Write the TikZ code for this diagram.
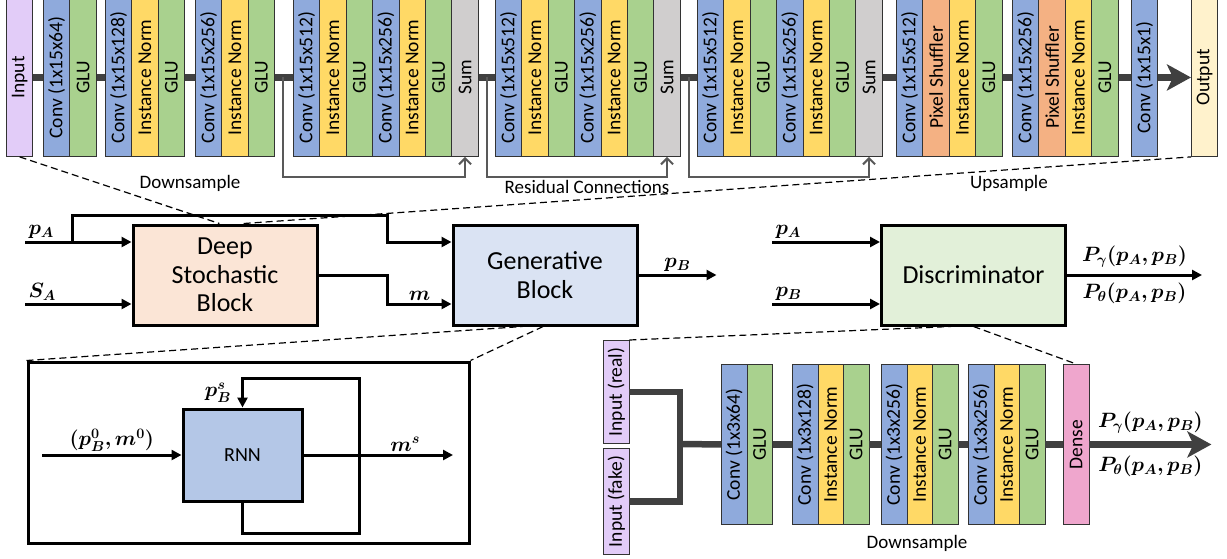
\documentclass[tikz,border=0pt]{standalone}
\usepackage[no-math]{fontspec}
\setmainfont{Carlito}
\usepackage{amsmath,bm}
\usetikzlibrary{arrows.meta,calc,positioning}

\definecolor{inpurple}{HTML}{E2CCF8}
\definecolor{convblue}{HTML}{8FAADC}
\definecolor{glugreen}{HTML}{A9D18E}
\definecolor{normyellow}{HTML}{FFD966}
\definecolor{sumgray}{HTML}{D0CECE}
\definecolor{shufforange}{HTML}{F4B183}
\definecolor{outyellow}{HTML}{FFF2CC}
\definecolor{densepink}{HTML}{EFA6CD}
\definecolor{dsbfill}{HTML}{FBE5D6}
\definecolor{genfill}{HTML}{DAE3F3}
\definecolor{discfill}{HTML}{E2F0D9}
\definecolor{rnnfill}{HTML}{B4C7E7}
\definecolor{busgray}{HTML}{404040}
\definecolor{skipgray}{HTML}{595959}

\def\layw{26.4}
\def\layh{158}
\newcommand{\layerstack}[4]{%
  \foreach \c/\t [count=\i] in {#4}{
    \node[layer, fill=\c] (#1-\i) at ({#2+(\i-1)*\layw},#3) {};
    \node[layertext] (#1-\i-txt) at (#1-\i.center) {\t};}}

\begin{document}
\begin{tikzpicture}[x=1pt,y=-1pt,
    layer/.style={draw=black!80, line width=0.9pt, inner sep=0pt, anchor=north west,
      minimum width=\layw pt, minimum height=\layh pt},
    layertext/.style={rotate=90, inner sep=0pt, font=\fontsize{19.5}{19.5}\selectfont},
    bus/.style={draw=busgray, line width=6.5pt},
    bigtip/.style={-{Stealth[length=24pt,width=26pt,inset=6pt]}},
    skipline/.style={draw=skipgray, line width=2pt, -{Straight Barb[length=6pt,width=12pt]}},
    wire/.style={line width=3pt, -{Triangle[length=10pt,width=10pt]}},
    blockbox/.style={draw, line width=3pt, minimum width=184pt, minimum height=100pt,
      align=center, font=\fontsize{26}{28.5}\selectfont},
    mlab/.style={font=\fontsize{22}{26}\selectfont, inner sep=2pt},
    note/.style={font=\fontsize{19}{19}\selectfont},
    zoomline/.style={line width=1.2pt, dash pattern=on 7pt off 4pt}]
  \useasboundingbox (0,0) rectangle (1227,558);

  \layerstack{inp}{6}{-2}{inpurple/Input}
  \layerstack{dn1}{43}{-2}{convblue/Conv (1x15x64),glugreen/GLU}
  \layerstack{dn2}{105}{-2}{convblue/Conv (1x15x128),normyellow/Instance Norm,glugreen/GLU}
  \layerstack{dn3}{195}{-2}{convblue/Conv (1x15x256),normyellow/Instance Norm,glugreen/GLU}
  \layerstack{rs1}{293}{-2}{convblue/Conv (1x15x512),normyellow/Instance Norm,glugreen/GLU,convblue/Conv (1x15x256),normyellow/Instance Norm,glugreen/GLU,sumgray/Sum}
  \layerstack{rs2}{495}{-2}{convblue/Conv (1x15x512),normyellow/Instance Norm,glugreen/GLU,convblue/Conv (1x15x256),normyellow/Instance Norm,glugreen/GLU,sumgray/Sum}
  \layerstack{rs3}{697}{-2}{convblue/Conv (1x15x512),normyellow/Instance Norm,glugreen/GLU,convblue/Conv (1x15x256),normyellow/Instance Norm,glugreen/GLU,sumgray/Sum}
  \layerstack{up1}{896}{-2}{convblue/Conv (1x15x512),shufforange/Pixel Shuffler,normyellow/Instance Norm,glugreen/GLU}
  \layerstack{up2}{1012}{-2}{convblue/Conv (1x15x256),shufforange/Pixel Shuffler,normyellow/Instance Norm,glugreen/GLU}
  \layerstack{fin}{1131}{-2}{convblue/Conv (1x15x1)}
  \layerstack{out}{1191}{-2}{outyellow/Output}

  \foreach \a/\b in {inp-1/dn1-1,dn1-2/dn2-1,dn2-3/dn3-1,dn3-3/rs1-1,rs1-7/rs2-1,rs2-7/rs3-1,rs3-7/up1-1,up1-4/up2-1,up2-4/fin-1}
    \draw[bus] (\a.east) -- (\b.west);
  \draw[bus, bigtip] (fin-1.east) -- (out-1.west);

  \foreach \a/\b in {dn3-3/rs1-7,rs1-7/rs2-7,rs2-7/rs3-7}{
    \coordinate (sk-\b) at ($(\a.east)+(8,0)$);
    \draw[skipline] (sk-\b) -- ++(0,100) -| (\b.south);}

  \node[note] (lbdown) at (190,183) {Downsample};
  \node[note] (lbres) at (587,187) {Residual Connections};
  \node[note] (lbup) at (1009,183) {Upsample};

  \node[blockbox, fill=dsbfill] (dsb) at (225,275) {Deep\\Stochastic\\Block};
  \node[blockbox, fill=genfill] (gen) at (545,275) {Generative\\Block};
  \node[blockbox, fill=discfill] (disc) at (973.5,275) {Discriminator};

  \coordinate (pa) at (25,242);
  \coordinate (sa) at (25,304);
  \coordinate (tap) at (72,242);
  \coordinate (bend) at (387,215);
  \draw[wire] (pa) node[mlab, above right] {$\bm{p_A}$} -- (dsb.west|-pa);
  \draw[wire] (sa) node[mlab, above right] {$\bm{S_A}$} -- (dsb.west|-sa);
  \draw[wire] (tap) |- (bend) |- (gen.west|-pa);
  \draw[wire] (dsb.east) -- ++(69,0) |- node[mlab, pos=0.75, above] {$\bm{m}$} (gen.west|-sa);
  \draw[wire] (gen.east) -- node[mlab, above] {$\bm{p_B}$} ++(78,0);

  \coordinate (dpa) at (772,242);
  \coordinate (dpb) at (772,304);
  \draw[wire] (dpa) node[mlab, above right] {$\bm{p_A}$} -- (disc.west|-dpa);
  \draw[wire] (dpb) node[mlab, above right] {$\bm{p_B}$} -- (disc.west|-dpb);
  \draw[wire] (disc.east) -- node[mlab, above=4pt] {$\bm{P_\gamma(p_A,p_B)}$}
    node[mlab, below=4pt] {$\bm{P_\theta(p_A,p_B)}$} ++(135,0);

  \node[draw, line width=3pt, minimum width=441pt, minimum height=181pt] (rnnzoom) at (248.5,452.5) {};
  \node[blockbox, fill=rnnfill, minimum width=119pt, minimum height=92pt,
    font=\fontsize{20}{22}\selectfont] (rnn) at (242.5,455) {RNN};
  \coordinate (rin) at (42,455);
  \coordinate (rout) at (453,455);
  \coordinate (loopr) at (359,378);
  \draw[wire] (rin) -- node[mlab, above] {$\bm{(p_B^0, m^0)}$} (rnn.west);
  \draw[wire] (rnn.east) -- node[mlab, above, pos=0.68] {$\bm{m^s}$} (rout);
  \draw[wire] (rnn.south) -- ++(0,31) -| (loopr) -| node[mlab, pos=0.75, left=8pt] {$\bm{p_B^s}$} (rnn.north);

  \def\layw{25.5}\def\layh{103}
  \layerstack{real}{603}{340}{inpurple/Input (real)}
  \def\layh{106}
  \layerstack{fake}{603}{448}{inpurple/Input (fake)}
  \def\layh{160}
  \layerstack{ds1}{721}{364}{convblue/Conv (1x3x64),glugreen/GLU}
  \layerstack{ds2}{792}{364}{convblue/Conv (1x3x128),normyellow/Instance Norm,glugreen/GLU}
  \layerstack{ds3}{881}{364}{convblue/Conv (1x3x256),normyellow/Instance Norm,glugreen/GLU}
  \layerstack{ds4}{968}{364}{convblue/Conv (1x3x256),normyellow/Instance Norm,glugreen/GLU}
  \layerstack{dense}{1063}{364}{densepink/Dense}

  \coordinate (join) at (680,444);
  \draw[bus] (real-1.east) -| (join) |- (fake-1.east);
  \draw[bus] (join) -- (ds1-1.west);
  \foreach \a/\b in {ds1-2/ds2-1,ds2-3/ds3-1,ds3-3/ds4-1,ds4-3/dense-1}
    \draw[bus] (\a.east) -- (\b.west);
  \draw[bus, bigtip] (dense-1.east) -- node[mlab, above=6pt] {$\bm{P_\gamma(p_A,p_B)}$}
    node[mlab, below=6pt] {$\bm{P_\theta(p_A,p_B)}$} ++(122,0);
  \node[note] (lbdisc) at (917,543) {Downsample};

  \draw[zoomline] (inp-1.south) -- ($(dsb.north west)!0.47!(dsb.north east)$);
  \draw[zoomline] ($(dsb.north west)!0.6!(dsb.north east)$) -- (out-1.south west);
  \draw[zoomline] (rnnzoom.north west) -- ($(gen.south west)!0.38!(gen.south east)$);
  \draw[zoomline] ($(gen.south west)!0.49!(gen.south east)$) -- (rnnzoom.north east);
  \draw[zoomline] (real-1.north east) -- ($(disc.south west)!0.38!(disc.south east)$);
  \draw[zoomline] ($(disc.south west)!0.5!(disc.south east)$) -- (dense-1.north);
\end{tikzpicture}
\end{document}
